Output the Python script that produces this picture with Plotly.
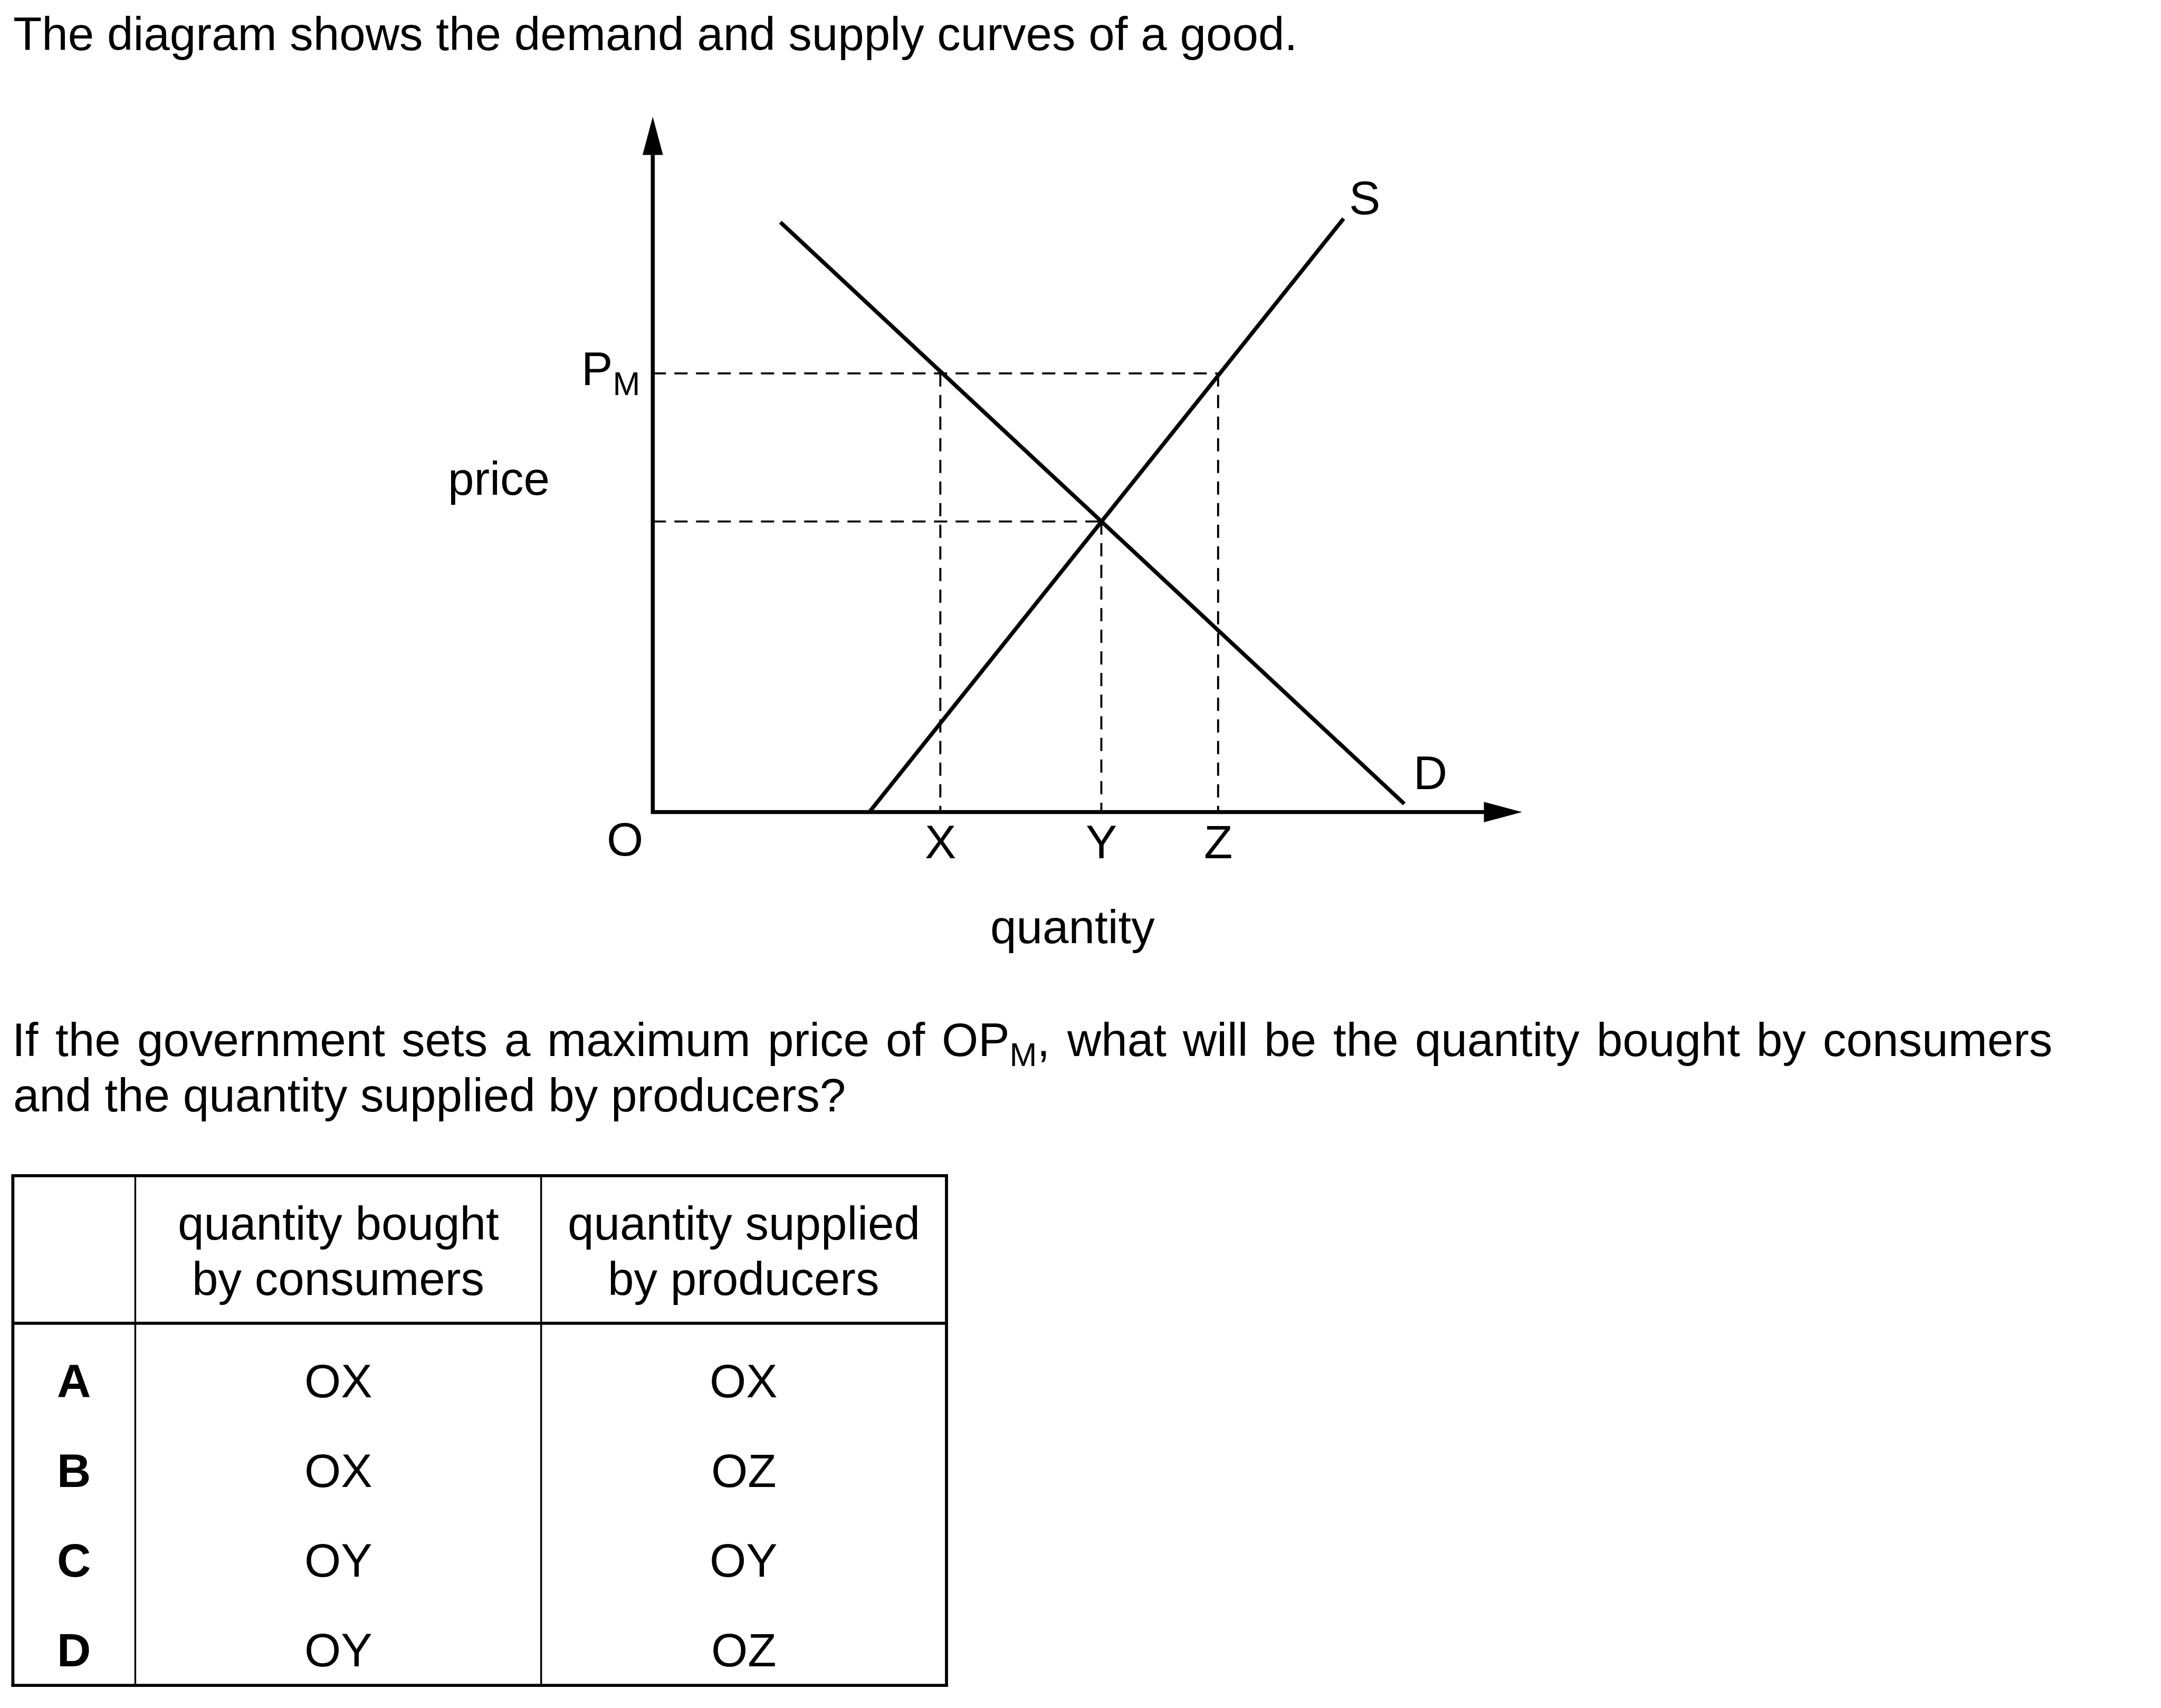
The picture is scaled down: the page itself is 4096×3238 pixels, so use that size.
import re
import plotly.graph_objects as go

# ---------------- data (diagram units: 1 unit = 10 px of the reference) ----------------
demand_q = [24.8, 146.1]
demand_p = [114.7, 1.6]
supply_q = [42.1, 134.3]
supply_p = [0.0, 115.4]
price_max = 85.3          # P_M
price_eq = 56.5           # equilibrium price
q_labels = ["X", "Y", "Z"]
q_values = [55.9, 87.2, 109.9]
q_axis_max = 168.9
p_axis_max = 135.1

# ---------------- table ----------------
tbl_header_1 = ["quantity bought", "by consumers"]
tbl_header_2 = ["quantity supplied", "by producers"]
tbl_options = ["A", "B", "C", "D"]
tbl_bought = ["OX", "OX", "OY", "OY"]
tbl_supplied = ["OX", "OZ", "OY", "OZ"]

title_text = "The diagram shows the demand and supply curves of a good."
question_lines = [
    "If the government sets a maximum price of OP<sub>M</sub>, what will be the quantity bought by consumers",
    "and the quantity supplied by producers?",
]

# ---------------- geometry helpers (reference pixel space 4201 x 3321) ----------------
REF_W, REF_H = 4201, 3321
OUT_W, OUT_H = 4096, 3238
S = OUT_W / REF_W
ORIGIN = (1269, 1579)
UNIT = 10.0
FONT = "Liberation Sans, Arial, sans-serif"
FS_OUT = 89
FS_REF = FS_OUT / S
ASC = 0.905

# Arial / Liberation Sans advance widths (1/1000 em)
ADV = {" ": 278, "I": 278, "f": 278, "t": 278, "h": 556, "e": 556, "g": 556, "o": 556, "v": 500,
       "r": 333, "n": 556, "m": 833, "s": 500, "a": 556, "x": 500, "i": 222, "u": 556, "p": 556,
       "c": 500, "O": 778, "P": 667, "M": 833, ",": 278, "w": 722, "l": 222, "b": 556, "q": 556,
       "y": 500, "d": 556, "?": 556}


def word_width(w, size):
    total = 0.0
    for part, sub in re.findall(r"<sub>(.*?)</sub>|([^<]+)", w):
        pass
    pieces = re.split(r"(<sub>.*?</sub>)", w)
    for pc in pieces:
        if pc.startswith("<sub>"):
            total += 0.7 * sum(ADV.get(c, 556) for c in pc[5:-6])
        else:
            total += sum(ADV.get(c, 556) for c in pc)
    return total / 1000 * size


def px(x):
    return x / REF_W


def py(y):
    return 1 - y / REF_H


annotations = []


def label(text, x, baseline, xanchor="left", bold=False, size=FS_OUT):
    size_ref = size / S
    top = baseline - ASC * size_ref
    if bold:
        text = "<b>" + text + "</b>"
    annotations.append(dict(
        text=text, x=px(x), y=py(top), xref="paper", yref="paper",
        xanchor=xanchor, yanchor="top", showarrow=False, borderpad=0, borderwidth=0,
        font=dict(family=FONT, size=size, color="black"), align="center" if xanchor == "center" else xanchor,
    ))


fig = go.Figure()

LINE_W = 7.5
DASH_W = 3.9
DASH = "25px,16px"

# dashed guide lines
fig.add_trace(go.Scatter(x=[0, q_values[2]], y=[price_max, price_max], mode="lines",
                         line=dict(color="black", width=DASH_W, dash=DASH)))
fig.add_trace(go.Scatter(x=[0, q_values[1]], y=[price_eq, price_eq], mode="lines",
                         line=dict(color="black", width=DASH_W, dash=DASH)))
for qv, top in zip(q_values, [price_max, price_eq, price_max]):
    fig.add_trace(go.Scatter(x=[qv, qv], y=[top, 0], mode="lines",
                             line=dict(color="black", width=DASH_W, dash=DASH)))

# demand and supply
fig.add_trace(go.Scatter(x=demand_q, y=demand_p, mode="lines", line=dict(color="black", width=LINE_W)))
fig.add_trace(go.Scatter(x=supply_q, y=supply_p, mode="lines", line=dict(color="black", width=LINE_W)))

# axes with arrow heads
HEAD_L = 7.3
HEAD_HW = 1.95
fig.add_trace(go.Scatter(x=[0, 0, q_axis_max - HEAD_L], y=[p_axis_max - HEAD_L, 0, 0], mode="lines",
                         line=dict(color="black", width=LINE_W)))
fig.add_trace(go.Scatter(x=[-HEAD_HW, HEAD_HW, 0, -HEAD_HW],
                         y=[p_axis_max - HEAD_L, p_axis_max - HEAD_L, p_axis_max, p_axis_max - HEAD_L],
                         mode="lines", fill="toself", fillcolor="black", line=dict(color="black", width=0.5)))
fig.add_trace(go.Scatter(x=[q_axis_max - HEAD_L, q_axis_max - HEAD_L, q_axis_max, q_axis_max - HEAD_L],
                         y=[-HEAD_HW, HEAD_HW, 0, -HEAD_HW],
                         mode="lines", fill="toself", fillcolor="black", line=dict(color="black", width=0.5)))


def dx(q):
    return ORIGIN[0] + q * UNIT


def dy(p):
    return ORIGIN[1] - p * UNIT


# diagram labels
label("P<sub>M</sub>", 1130, dy(price_max) + 22)
label("price", 970, 962, xanchor="center")
label("O", 1215, 1663, xanchor="center")
for name, qv in zip(q_labels, q_values):
    label(name, dx(qv), 1668, xanchor="center")
label("quantity", 2085, 1833, xanchor="center")
label("S", 2653, 416, xanchor="center")
label("D", 2781, 1534, xanchor="center")

# text
TEXT_LEFT = 24
label(title_text, 26, 97)

# first question line is spread a little wider (justified in the reference)
q1_words = question_lines[0].split(" ")
q1_right = 3990
nat = sum(word_width(w, FS_REF) for w in q1_words)
space = ADV[" "] / 1000 * FS_REF
gap = (q1_right - TEXT_LEFT - nat) / (len(q1_words) - 1)
xpos = TEXT_LEFT
for w in q1_words:
    label(w, xpos, 2053)
    xpos += word_width(w, FS_REF) + gap
label(question_lines[1], 26, 2161)

# table
col_edges = [25, 263, 1052, 1840]
tbl_top, tbl_head_bottom, tbl_bottom = 2286, 2573, 3277
header_baselines = [2410, 2517]
row_baselines = [2716, 2891, 3065, 3239]

shapes = []
THICK = 5.8
THIN = 3.4


def hline(x0, x1, y, w):
    shapes.append(dict(type="line", xref="paper", yref="paper", x0=px(x0), x1=px(x1), y0=py(y), y1=py(y),
                       line=dict(color="black", width=w)))


def vline(x, y0, y1, w):
    shapes.append(dict(type="line", xref="paper", yref="paper", x0=px(x), x1=px(x), y0=py(y0), y1=py(y1),
                       line=dict(color="black", width=w)))


hline(col_edges[0] - 3, col_edges[-1] + 3, tbl_top, THICK)
hline(col_edges[0] - 3, col_edges[-1] + 3, tbl_bottom, THICK)
hline(col_edges[0], col_edges[-1], tbl_head_bottom, THICK)
vline(col_edges[0], tbl_top, tbl_bottom, THICK)
vline(col_edges[-1], tbl_top, tbl_bottom, THICK)
for c in col_edges[1:-1]:
    vline(c, tbl_top, tbl_bottom, THIN)

c0 = (col_edges[0] + col_edges[1]) / 2
c1 = (col_edges[1] + col_edges[2]) / 2
c2 = (col_edges[2] + col_edges[3]) / 2
for i, b in enumerate(header_baselines):
    label(tbl_header_1[i], c1, b, xanchor="center")
    label(tbl_header_2[i], c2, b, xanchor="center")
for opt, bo, su, b in zip(tbl_options, tbl_bought, tbl_supplied, row_baselines):
    label(opt, c0, b, xanchor="center", bold=True)
    label(bo, c1, b, xanchor="center")
    label(su, c2, b, xanchor="center")

x_range = [(0 - ORIGIN[0]) / UNIT, (REF_W - ORIGIN[0]) / UNIT]
y_range = [(ORIGIN[1] - REF_H) / UNIT, ORIGIN[1] / UNIT]

fig.update_layout(
    width=OUT_W, height=OUT_H, margin=dict(l=0, r=0, t=0, b=0, pad=0),
    paper_bgcolor="white", plot_bgcolor="white", showlegend=False, hovermode=False,
    xaxis=dict(range=x_range, visible=False, domain=[0, 1], fixedrange=True),
    yaxis=dict(range=y_range, visible=False, domain=[0, 1], fixedrange=True),
    annotations=annotations, shapes=shapes,
)

fig.write_html("out.html", config={"displayModeBar": False},
               post_script="document.body.style.margin='0';document.body.style.overflow='hidden';")
